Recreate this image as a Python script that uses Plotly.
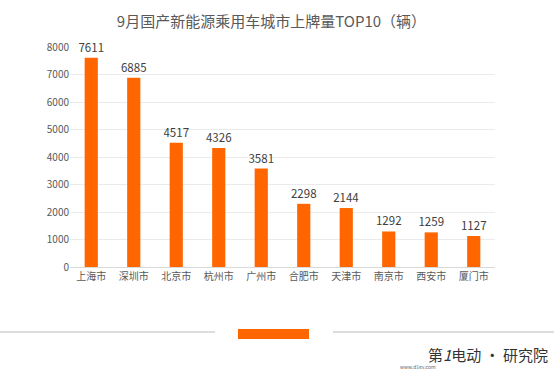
import plotly.graph_objects as go

cities = ["上海市", "深圳市", "北京市", "杭州市", "广州市", "合肥市", "天津市", "南京市", "西安市", "厦门市"]
values = [7611, 6885, 4517, 4326, 3581, 2298, 2144, 1292, 1259, 1127]
y_ticks = [0, 1000, 2000, 3000, 4000, 5000, 6000, 7000, 8000]

FONT = "Noto Sans CJK SC, Noto Sans, sans-serif"

fig = go.Figure(go.Bar(
    x=cities, y=values,
    marker=dict(color="#FF6600", line=dict(width=0)),
    text=[str(v) for v in values],
    textposition="outside",
    constraintext="none",
    textfont=dict(size=11.5, color="#404040", family=FONT),
    cliponaxis=False,
))

PW, PH = 425, 220
def px(x):
    return (x - 70) / PW
def py(y):
    return (267 - y) / PH

fig.update_layout(
    width=554, height=371,
    margin=dict(l=70, r=59, t=47, b=104),
    paper_bgcolor="white", plot_bgcolor="white",
    bargap=0.69,
    showlegend=False,
    title=dict(text="9月国产新能源乘用车城市上牌量TOP10（辆）",
               x=0.49, xanchor="center", y=1 - 22 / 371, yanchor="middle",
               font=dict(size=15, color="#595959", family=FONT)),
    xaxis=dict(showgrid=False, showline=True, linecolor="#D9D9D9", linewidth=1,
               ticks="", tickfont=dict(size=10, color="#595959", family=FONT)),
    yaxis=dict(range=[0, 8000], tickvals=y_ticks, showgrid=True, gridcolor="#EBEBEB",
               zeroline=False, showline=False, ticks="",
               tickfont=dict(size=10, color="#595959", family=FONT)),
    shapes=[
        dict(type="line", xref="paper", yref="paper", x0=px(0), x1=px(215),
             y0=py(332), y1=py(332), line=dict(color="#DDDDDD", width=2)),
        dict(type="line", xref="paper", yref="paper", x0=px(333), x1=px(554),
             y0=py(332), y1=py(332), line=dict(color="#DDDDDD", width=2)),
        dict(type="rect", xref="paper", yref="paper", x0=px(238), x1=px(309),
             y0=py(339), y1=py(329), fillcolor="#FF6600", line=dict(width=0)),
    ],
    annotations=[
        dict(text="第<i>1</i>电动 · 研究院", xref="paper", yref="paper",
             x=px(550), y=py(354), xanchor="right", yanchor="middle",
             showarrow=False, font=dict(size=15, color="#333333", family=FONT)),
        dict(text="www.d1ev.com", xref="paper", yref="paper",
             x=px(418), y=py(366), xanchor="center", yanchor="middle",
             showarrow=False, font=dict(size=5, color="#666666", family=FONT)),
    ],
)

fig.write_html("out.html", config={"displayModeBar": False},
               post_script="document.body.style.margin='0';")
